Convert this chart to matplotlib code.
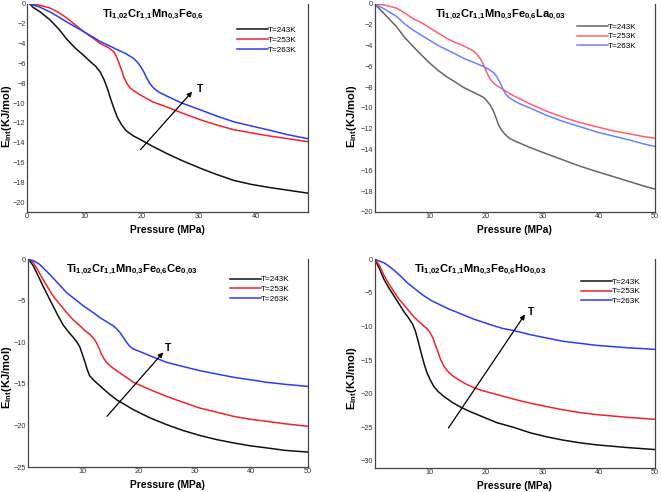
import matplotlib
matplotlib.use("Agg")
import matplotlib.pyplot as plt

plt.rcParams['font.family'] = ['Liberation Sans', 'DejaVu Sans']
plt.rcParams['mathtext.fontset'] = 'custom'
plt.rcParams['mathtext.rm'] = 'Liberation Sans'
plt.rcParams['mathtext.bf'] = 'Liberation Sans:bold'
plt.rcParams['mathtext.it'] = 'Liberation Sans:italic'

# ---------------- data ----------------
labels = ['T=243K', 'T=253K', 'T=263K']

# Panel 1: Ti1,02Cr1,1Mn0,3Fe0,6
p1_x_243 = [0.5, 1.1, 2.3, 4.0, 5.5, 7.0, 8.5, 9.9, 11.0, 12.0, 12.8, 13.4, 14.0, 14.6, 15.2, 15.8, 16.5, 17.3, 18.5, 19.8, 22.0, 24.4, 27.0, 30.3, 33.0, 36.0, 39.0, 42.0, 45.5, 49.0]
p1_y_243 = [0.0, -0.35, -0.8, -1.6, -2.5, -3.6, -4.5, -5.2, -5.8, -6.3, -6.9, -7.6, -8.5, -9.6, -10.6, -11.5, -12.2, -12.8, -13.3, -13.7, -14.4, -15.1, -15.8, -16.6, -17.2, -17.8, -18.2, -18.5, -18.8, -19.1]
p1_x_253 = [0.5, 2.0, 4.0, 5.5, 6.9, 8.4, 9.9, 11.4, 12.8, 14.2, 15.1, 15.6, 16.0, 16.5, 16.9, 17.4, 18.0, 19.0, 19.8, 22.0, 24.4, 27.0, 30.3, 33.0, 36.1, 39.0, 42.0, 45.5, 49.0]
p1_y_253 = [0.0, -0.1, -0.4, -0.85, -1.4, -2.1, -2.8, -3.4, -4.0, -4.4, -4.8, -5.3, -5.9, -6.7, -7.4, -8.0, -8.5, -8.9, -9.2, -9.9, -10.4, -11.0, -11.7, -12.2, -12.7, -13.0, -13.3, -13.6, -13.9]
p1_x_263 = [0.5, 2.0, 4.0, 5.5, 6.9, 8.4, 9.9, 11.4, 12.8, 14.3, 15.7, 17.2, 18.6, 19.3, 19.8, 20.4, 20.9, 21.5, 22.1, 23.0, 24.4, 27.0, 30.3, 33.0, 36.1, 39.0, 42.0, 45.5, 49.0]
p1_y_263 = [0.0, -0.25, -0.8, -1.3, -1.8, -2.3, -2.8, -3.3, -3.8, -4.2, -4.6, -5.0, -5.5, -5.9, -6.3, -6.9, -7.5, -8.1, -8.5, -8.9, -9.3, -10.0, -10.7, -11.3, -11.9, -12.3, -12.7, -13.2, -13.6]

# Panel 2: ...La0,03
p2_x_243 = [0.2, 2.0, 4.1, 5.5, 7.05, 8.5, 10.0, 11.5, 13.0, 14.5, 15.9, 17.4, 18.9, 19.6, 20.1, 20.7, 21.3, 21.8, 22.2, 22.7, 23.3, 24.1, 25.0, 27.8, 30.7, 33.7, 36.7, 39.6, 42.6, 45.6, 48.0, 50.0]
p2_y_243 = [0.0, -1.0, -2.2, -3.2, -4.1, -4.9, -5.7, -6.4, -7.0, -7.5, -8.0, -8.4, -8.8, -9.0, -9.3, -9.7, -10.3, -11.0, -11.6, -12.1, -12.5, -12.9, -13.15, -13.8, -14.4, -15.0, -15.6, -16.1, -16.6, -17.1, -17.5, -17.8]
p2_x_253 = [0.2, 2.0, 4.1, 5.5, 7.0, 8.5, 10.0, 11.5, 13.0, 14.5, 15.9, 17.0, 17.7, 18.3, 18.9, 19.4, 19.8, 20.3, 20.7, 21.3, 21.9, 23.1, 24.8, 27.8, 30.7, 33.7, 36.7, 39.6, 42.6, 45.6, 48.0, 50.0]
p2_y_253 = [0.0, -0.1, -0.4, -0.85, -1.4, -1.8, -2.3, -2.8, -3.3, -3.7, -4.0, -4.3, -4.5, -4.8, -5.2, -5.7, -6.2, -6.8, -7.2, -7.6, -7.85, -8.25, -8.8, -9.6, -10.3, -10.9, -11.4, -11.8, -12.2, -12.5, -12.75, -12.9]
p2_x_263 = [0.2, 2.0, 4.1, 5.5, 7.0, 8.5, 10.0, 11.5, 13.0, 14.5, 15.9, 17.7, 19.5, 20.5, 21.3, 21.9, 22.5, 23.0, 23.5, 24.1, 24.8, 26.0, 27.8, 30.7, 33.7, 36.7, 39.6, 42.6, 45.6, 48.0, 50.0]
p2_y_263 = [0.0, -0.5, -1.2, -1.9, -2.5, -3.0, -3.5, -4.0, -4.4, -4.8, -5.2, -5.6, -6.0, -6.3, -6.6, -7.0, -7.6, -8.2, -8.7, -9.0, -9.25, -9.6, -10.0, -10.7, -11.3, -11.8, -12.3, -12.7, -13.1, -13.45, -13.7]

# Panel 3: ...Ce0,03
p3_x_243 = [0.15, 0.7, 1.2, 2.0, 2.9, 3.8, 4.7, 5.6, 6.5, 7.4, 8.3, 9.0, 9.5, 9.9, 10.4, 10.8, 11.2, 12.0, 13.0, 14.5, 16.0, 17.5, 19.0, 22.0, 24.9, 27.8, 30.8, 33.8, 36.8, 39.8, 42.7, 46.0, 50.0]
p3_y_243 = [0.0, -0.3, -0.8, -1.9, -3.2, -4.4, -5.6, -6.8, -7.9, -8.7, -9.4, -10.0, -10.6, -11.4, -12.4, -13.3, -14.0, -14.6, -15.2, -16.1, -16.9, -17.5, -18.1, -19.1, -19.9, -20.6, -21.2, -21.7, -22.1, -22.45, -22.7, -23.0, -23.2]
p3_x_253 = [0.15, 0.7, 1.2, 2.0, 2.9, 3.8, 4.7, 5.9, 7.1, 8.3, 9.5, 10.4, 11.2, 11.9, 12.4, 12.9, 13.3, 13.8, 14.2, 15.0, 16.0, 17.5, 19.0, 22.0, 24.9, 27.8, 30.8, 33.8, 36.8, 39.8, 42.7, 46.0, 50.0]
p3_y_253 = [0.0, -0.1, -0.4, -1.3, -2.4, -3.4, -4.4, -5.4, -6.4, -7.3, -8.0, -8.6, -9.0, -9.5, -10.0, -10.7, -11.4, -12.0, -12.4, -12.9, -13.4, -14.1, -14.8, -15.7, -16.5, -17.2, -17.9, -18.4, -18.9, -19.25, -19.5, -19.8, -20.1]
p3_x_263 = [0.15, 1.2, 2.3, 3.2, 4.1, 5.6, 7.1, 8.6, 10.1, 11.6, 13.0, 14.2, 15.4, 16.0, 16.6, 17.2, 17.8, 18.4, 19.0, 20.5, 21.9, 24.9, 27.8, 30.8, 33.8, 36.8, 39.8, 42.7, 46.0, 50.0]
p3_y_263 = [0.0, -0.15, -0.6, -1.2, -1.8, -2.9, -4.0, -4.8, -5.6, -6.3, -7.0, -7.5, -8.0, -8.35, -8.8, -9.4, -10.0, -10.5, -10.8, -11.2, -11.6, -12.4, -12.9, -13.4, -13.8, -14.2, -14.5, -14.8, -15.05, -15.3]

# Panel 4: ...Ho0,03
p4_x_243 = [0.2, 0.7, 1.1, 1.8, 2.6, 3.6, 4.5, 5.4, 6.2, 6.9, 7.4, 7.8, 8.2, 8.6, 9.0, 9.5, 10.1, 10.7, 11.5, 12.5, 14.0, 15.5, 17.0, 19.0, 21.9, 24.9, 27.8, 30.7, 33.7, 36.7, 39.6, 45.0, 50.0]
p4_y_243 = [0.0, -0.8, -1.5, -2.9, -4.1, -5.4, -6.6, -7.8, -8.7, -9.6, -10.6, -11.8, -13.1, -14.4, -15.6, -16.9, -18.0, -18.9, -19.7, -20.4, -21.3, -22.0, -22.6, -23.3, -24.3, -25.0, -25.8, -26.4, -26.9, -27.3, -27.6, -28.0, -28.3]
p4_x_253 = [0.2, 0.7, 1.1, 1.8, 2.6, 3.6, 4.5, 5.4, 6.3, 7.2, 8.1, 8.9, 9.6, 10.1, 10.6, 11.0, 11.5, 11.9, 12.5, 13.1, 14.0, 14.9, 16.3, 17.8, 19.6, 21.4, 24.9, 27.8, 30.7, 33.7, 36.7, 39.6, 45.0, 50.0]
p4_y_253 = [0.0, -0.5, -1.0, -2.3, -3.5, -4.8, -5.9, -6.8, -7.7, -8.6, -9.3, -9.9, -10.4, -11.0, -11.8, -12.8, -13.9, -14.9, -15.9, -16.6, -17.3, -17.8, -18.5, -19.1, -19.6, -20.0, -20.8, -21.4, -21.9, -22.4, -22.8, -23.1, -23.5, -23.8]
p4_x_263 = [0.2, 1.1, 1.8, 2.7, 3.6, 4.8, 6.0, 7.5, 8.9, 10.4, 11.9, 13.4, 14.9, 16.3, 17.8, 19.6, 21.4, 23.0, 24.9, 27.8, 30.7, 33.7, 36.7, 39.6, 45.0, 50.0]
p4_y_263 = [0.0, -0.3, -0.5, -1.0, -1.6, -2.5, -3.5, -4.5, -5.4, -6.2, -6.8, -7.4, -7.9, -8.4, -8.9, -9.4, -9.9, -10.3, -10.6, -11.2, -11.7, -12.2, -12.5, -12.8, -13.15, -13.4]

titles = [r'$\mathbf{Ti_{1{,}02}Cr_{1{,}1}Mn_{0{,}3}Fe_{0{,}6}}$',
          r'$\mathbf{Ti_{1{,}02}Cr_{1{,}1}Mn_{0{,}3}Fe_{0{,}6}La_{0{,}03}}$',
          r'$\mathbf{Ti_{1{,}02}Cr_{1{,}1}Mn_{0{,}3}Fe_{0{,}6}Ce_{0{,}03}}$',
          r'$\mathbf{Ti_{1{,}02}Cr_{1{,}1}Mn_{0{,}3}Fe_{0{,}6}Ho_{0{,}03}}$']

# ---------------- figure ----------------
W, H = 661, 492
fig = plt.figure(figsize=(W / 100, H / 100), dpi=100)

def box(l, r, t, b):
    return [l / W, 1 - b / H, (r - l) / W, (b - t) / H]

panels = [
    dict(rect=box(27, 308, 4, 212), xlim=(0, 49), ylim=(-21, 0),
         xticks=[0, 10, 20, 30, 40], yticks=list(range(0, -21, -2)),
         series=[(p1_x_243, p1_y_243), (p1_x_253, p1_y_253), (p1_x_263, p1_y_263)],
         colors=['#111111', '#f0222a', '#2a3cf5'],
         leg=(0.746, 0.867), title=(0.45, 0.947), ylab=(-0.070, 0.46),
         arrow=((19.8, -14.7), (28.8, -8.85)), T=(30.1, -8.6)),
    dict(rect=box(374.7, 655, 4, 212), xlim=(0.2, 50), ylim=(-20, 0),
         xticks=[10, 20, 30, 40, 50], yticks=list(range(0, -21, -2)),
         series=[(p2_x_243, p2_y_243), (p2_x_253, p2_y_253), (p2_x_263, p2_y_263)],
         colors=['#666666', '#ff5d73', '#6b82ff'],
         leg=(0.72, 0.883), title=(0.447, 0.947), ylab=(-0.082, 0.46),
         arrow=None, T=None),
    dict(rect=box(27.7, 307.7, 259.3, 467), xlim=(0.2, 50), ylim=(-25, 0),
         xticks=[10, 20, 30, 40, 50], yticks=list(range(0, -26, -5)),
         series=[(p3_x_243, p3_y_243), (p3_x_253, p3_y_253), (p3_x_263, p3_y_263)],
         colors=['#111111', '#f0222a', '#2a3cf5'],
         leg=(0.722, 0.895), title=(0.371, 0.948), ylab=(-0.073, 0.43),
         arrow=((14.3, -18.9), (24.3, -11.2)), T=(25.2, -10.7)),
    dict(rect=box(374.7, 655, 259.3, 467.7), xlim=(0.2, 50), ylim=(-31, 0),
         xticks=[10, 20, 30, 40, 50], yticks=list(range(0, -31, -5)),
         series=[(p4_x_243, p4_y_243), (p4_x_253, p4_y_253), (p4_x_263, p4_y_263)],
         colors=['#111111', '#f0222a', '#2a3cf5'],
         leg=(0.736, 0.885), title=(0.376, 0.948), ylab=(-0.082, 0.43),
         arrow=((13.3, -25.1), (26.9, -8.2)), T=(28.0, -7.9)),
]

for p, title in zip(panels, titles):
    ax = fig.add_axes(p['rect'])
    for (xs, ys), c, lab in zip(p['series'], p['colors'], labels):
        ax.plot(xs, ys, color=c, lw=1.1, label=lab, solid_joinstyle='round')
    ax.set_xlim(*p['xlim'])
    ax.set_ylim(*p['ylim'])
    ax.set_xticks(p['xticks'])
    ax.set_yticks(p['yticks'])
    ax.tick_params(length=0, pad=1, labelsize=5.3, labelcolor='#333333')
    for s in ['left', 'right', 'bottom']:
        ax.spines[s].set_color('#444444')
        ax.spines[s].set_linewidth(0.9)
    ax.spines['top'].set_visible(False)

    ax.set_xlabel('Pressure (MPa)', fontsize=7.4, fontweight='bold')
    ax.xaxis.label.set_va('center')
    ax.xaxis.set_label_coords(0.5, -0.087)
    ax.set_ylabel(r'$\mathbf{E_{int}}$(KJ/mol)', fontsize=8.0, fontweight='bold')
    ax.yaxis.label.set_va('center')
    ax.yaxis.set_label_coords(*p['ylab'])

    ax.text(p['title'][0], p['title'][1], title, transform=ax.transAxes,
            fontsize=8, ha='center', va='center')
    ax.legend(loc='upper left', bbox_to_anchor=(p['leg'][0], p['leg'][1] + 0.026),
              frameon=False, fontsize=5.9, handlelength=3.8, handletextpad=0.0,
              labelspacing=0.25, borderpad=0, borderaxespad=0)
    if p['arrow'] is not None:
        ax.annotate('', xy=p['arrow'][1], xytext=p['arrow'][0],
                    arrowprops=dict(arrowstyle='-|>', color='black', lw=0.9,
                                    mutation_scale=7, shrinkA=0, shrinkB=0))
        ax.text(p['T'][0], p['T'][1], 'T', fontsize=7.5, fontweight='bold',
                ha='center', va='center')

fig.savefig('out.png', dpi=100)
